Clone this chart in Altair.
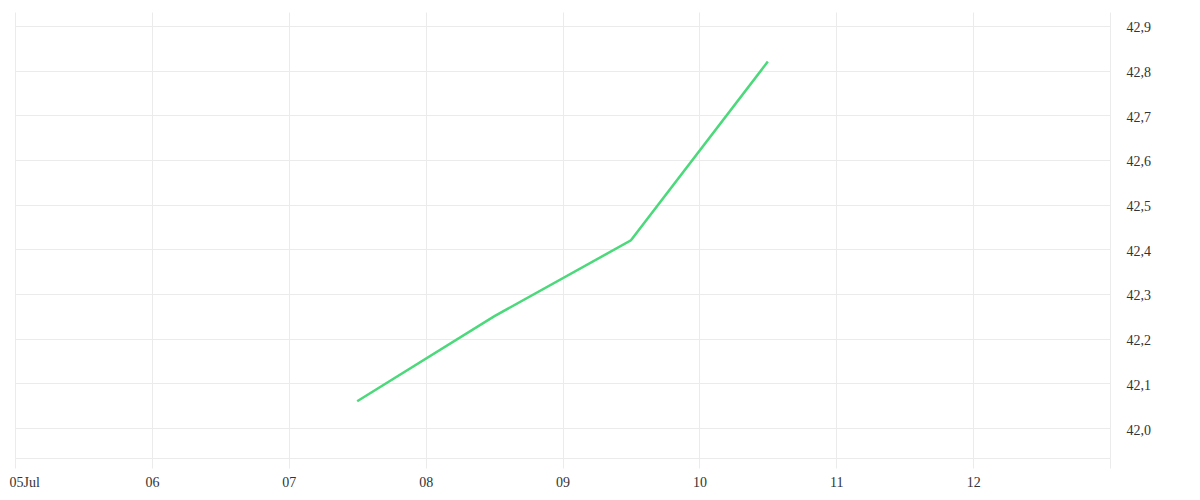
import altair as alt
import pandas as pd

dates = ["2024-07-07T12:00:00Z", "2024-07-08T12:00:00Z", "2024-07-09T12:00:00Z", "2024-07-10T12:00:00Z"]
values = [42.06, 42.25, 42.42, 42.82]
y_ticks = [42.0, 42.1, 42.2, 42.3, 42.4, 42.5, 42.6, 42.7, 42.8, 42.9]
x_ticks = [alt.DateTime(year=2024, month=7, date=d, utc=True) for d in range(5, 14)]

df = pd.DataFrame({"date": dates, "value": values})

FONT = "Liberation Serif"
GRID = "#ebebeb"

chart = alt.Chart(df).mark_line(color="#4CD97B", strokeWidth=2.5).encode(
    x=alt.X("date:T",
            scale=alt.Scale(type="utc",
                            domain=[alt.DateTime(year=2024, month=7, date=5, utc=True),
                                    alt.DateTime(year=2024, month=7, date=13, utc=True)]),
            axis=alt.Axis(values=x_ticks, title=None, grid=True, gridColor=GRID,
                          tickColor=GRID, tickSize=10, domainColor=GRID,
                          labelFont=FONT, labelFontSize=14, labelColor="#333333",
                          labelPadding=7, labelFlush=True, labelFlushOffset=6,
                          labelOverlap=False,
                          labelExpr="utcFormat(datum.value,'%d') == '05' ? '05Jul' : (utcFormat(datum.value,'%d') == '13' ? '' : utcFormat(datum.value,'%d'))")),
    y=alt.Y("value:Q",
            scale=alt.Scale(domain=[41.933, 42.931], zero=False, nice=False),
            axis=alt.Axis(orient="right", values=y_ticks, title=None, grid=True,
                          gridColor=GRID, ticks=False, domain=False,
                          labelFont=FONT, labelFontSize=14, labelColor="#333333",
                          labelPadding=16, labelBaseline="middle", labelOffset=2,
                          labelExpr="replace(format(datum.value, '.1f'), '.', ',')")),
).properties(
    width=1095, height=446,
    autosize=alt.AutoSizeParams(type="none"),
    padding={"left": 7, "top": 4, "right": 80, "bottom": 30},
).configure_view(stroke=None)

chart.save("out.html", embed_options={"renderer": "svg", "actions": False})
